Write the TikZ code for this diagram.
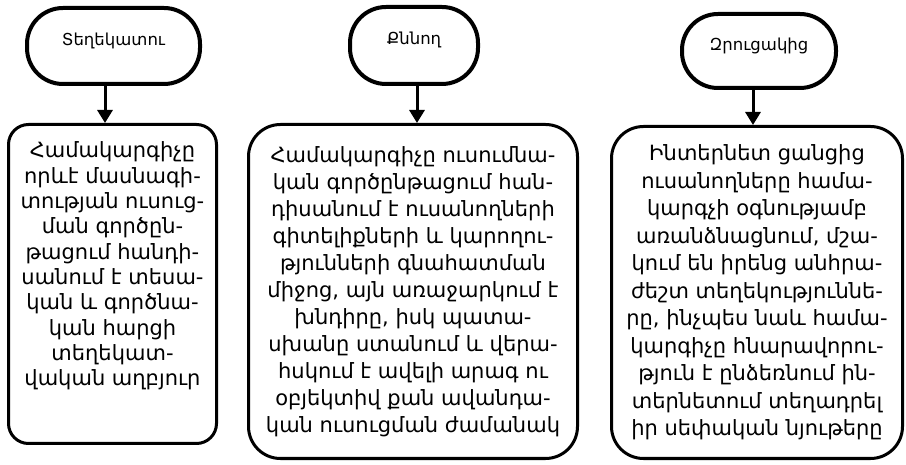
\documentclass[tikz,border=0pt]{standalone}
\usepackage{fontspec}
\setmainfont{DejaVu Sans}
\usetikzlibrary{arrows.meta}
\tikzset{role node/.style={rectangle, draw, rounded corners=36pt, line width=4pt,
    align=center, text depth=14pt, font=\fontsize{16.5}{20}\selectfont}}
\tikzset{duty node/.style={rectangle, draw, rounded corners=#1, line width=3pt,
    align=center, inner sep=0pt}}
\tikzset{duty edge/.style={draw, line width=3pt, -{Triangle[length=13pt,width=15pt]}}}

\begin{document}
\begin{tikzpicture}
      [x=1pt, y=1pt]
      \useasboundingbox (0,0) rectangle (906,464);

      \node [role node, minimum width=173pt, minimum height=76pt] (guide)  at (113.5, 418) {Տեղեկատու};
      \node [role node, minimum width=128pt, minimum height=77pt] (judge)  at (414, 418.5) {Քննող};
      \node [role node, minimum width=154pt, minimum height=74pt] (talker) at (759, 413)   {Զրուցակից};

      \node [duty node=20pt, minimum width=208pt, minimum height=319pt,
             font=\fontsize{21}{25.3}\selectfont] (guidetext) at (112.5, 180)
        {Համակարգիչը\\որևէ մասնագի-\\տության ուսուց-\\ման գործըն-\\թացում հանդի-\\սանում է տեսա-\\կան և գործնա-\\կան հարցի\\տեղեկատ-\\վական աղբյուր\\[15pt]\mbox{}};
      \node [duty node=32pt, minimum width=329pt, minimum height=334pt,
             font=\fontsize{21}{27}\selectfont] (judgetext) at (413, 172.5)
        {Համակարգիչը ուսումնա-\\կան գործընթացում հան-\\դիսանում է ուսանողների\\գիտելիքների և կարողու-\\թյունների գնահատման\\միջոց, այն առաջարկում է\\խնդիրը, իսկ պատա-\\սխանը ստանում և վերա-\\հսկում է ավելի արագ ու\\օբյեկտիվ քան ավանդա-\\կան ուսուցման ժամանակ};
      \node [duty node=32pt, minimum width=291pt, minimum height=332pt,
             font=\fontsize{21}{27.5}\selectfont] (talkertext) at (757, 171.5)
        {Ինտերնետ ցանցից\\ուսանողները համա-\\կարգչի օգնությամբ\\առանձնացնում, մշա-\\կում են իրենց անհրա-\\ժեշտ տեղեկություննե-\\րը, ինչպես նաև համա-\\կարգիչը հնարավորու-\\թյուն է ընձեռնում ին-\\տերնետում տեղադրել\\իր սեփական նյութերը};

      \draw [duty edge] ([xshift=-8.5pt]guide.south) to ([xshift=-8.5pt]guide.south |- guidetext.north);
      \draw [duty edge] ([xshift=3pt]judge.south)    to ([xshift=3pt]judge.south |- judgetext.north);
      \draw [duty edge] ([xshift=-6pt]talker.south)  to ([xshift=-6pt]talker.south |- talkertext.north);
\end{tikzpicture}
\end{document}
